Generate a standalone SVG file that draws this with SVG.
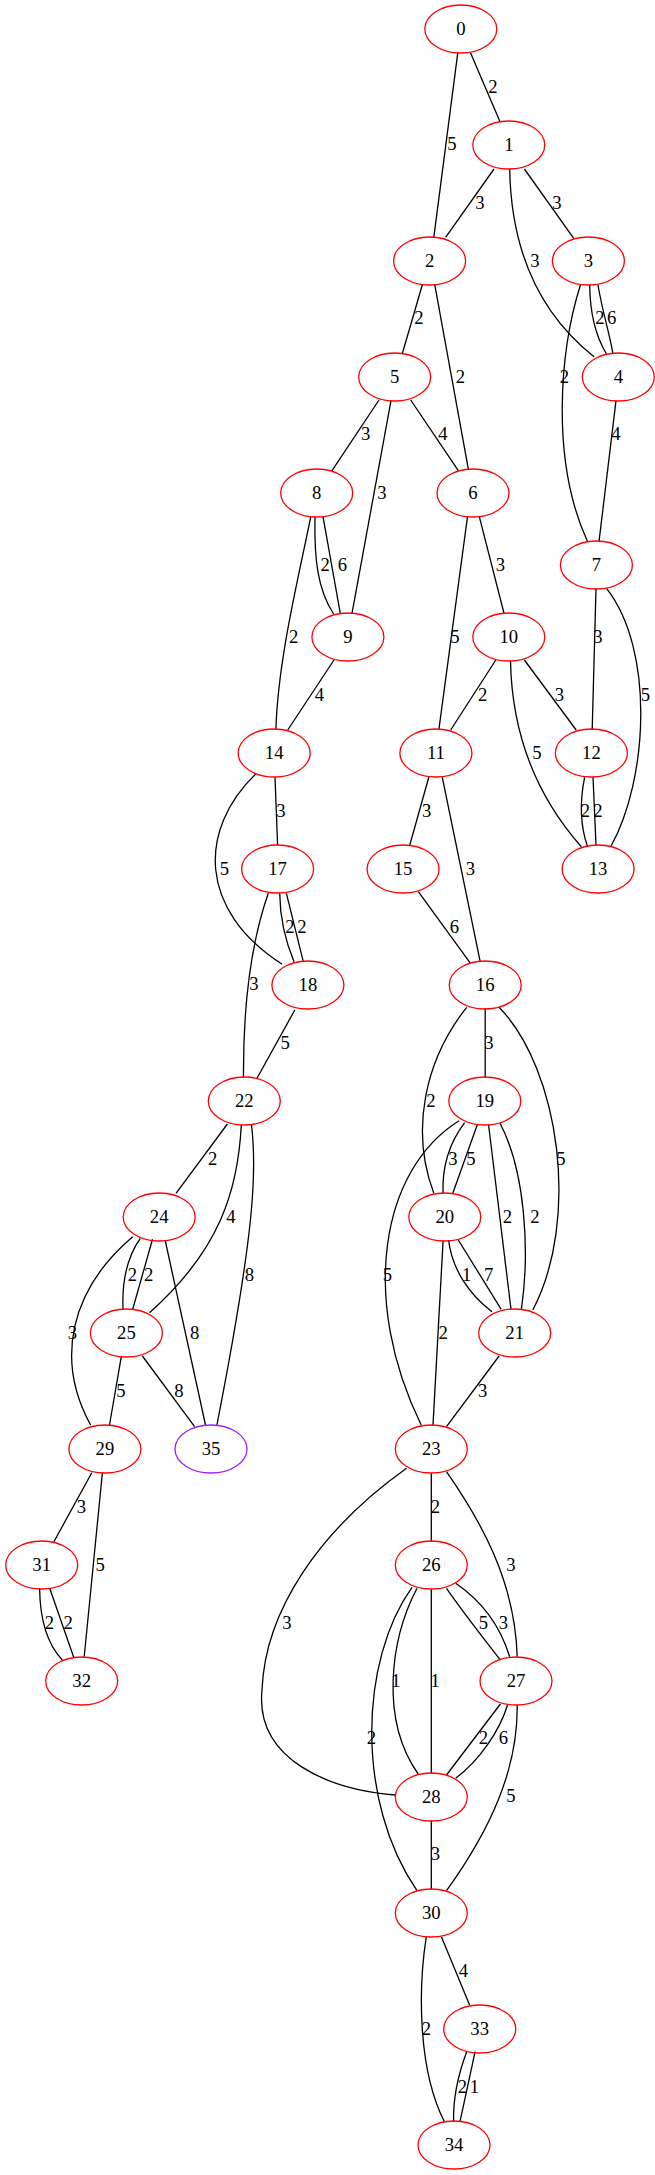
<svg xmlns="http://www.w3.org/2000/svg" width="655" height="2175" viewBox="0 0 655 2175">
<style>
.n ellipse{fill:none;stroke:#ff0000;stroke-width:1.3}
.n text,.l text{font-family:"Liberation Serif","Times New Roman",serif;font-size:18.67px;text-anchor:middle;fill:#000}
.e path{fill:none;stroke:#000;stroke-width:1.3}
</style>
<rect width="655" height="2175" fill="#fff"/>
<g id="edges" class="e">
<path d="M457.8,52.7 L433.8,237.3"/>
<path d="M470.5,52.7 L500,121.7"/>
<path d="M494,169 L445.6,237.3"/>
<path d="M524.4,169 L573.7,238.3"/>
<path d="M509.7,169 C511,245 535,310 594,356.7"/>
<path d="M422.5,284.3 L402.2,354"/>
<path d="M434.7,284.3 L468.4,469.3"/>
<path d="M589.7,285 C590,320 598,340 606.5,354"/>
<path d="M598,285 C602,310 610,335 612.8,353.3"/>
<path d="M580.4,285 C560,350 550,460 587.6,541.7"/>
<path d="M616,400.7 L599,541.7"/>
<path d="M379,400 L332,470.7"/>
<path d="M391,400.7 L352,613.3"/>
<path d="M410.7,400 L458.3,470.7"/>
<path d="M315,516.7 C314,560 318,590 333.6,614"/>
<path d="M323,516.7 L340.3,613.3"/>
<path d="M310.8,516.7 C298,580 278,660 275.9,729.3"/>
<path d="M467.5,516.7 L438.9,729.3"/>
<path d="M479.3,516.7 L504.2,614"/>
<path d="M596,588.3 L592.2,730"/>
<path d="M606.5,588.3 C655,650 648,780 610.7,846.7"/>
<path d="M334,660 L287.7,730"/>
<path d="M495.8,660 L450.7,730"/>
<path d="M524.4,660 L576.2,730"/>
<path d="M510.5,660.7 C512,740 540,800 581.3,846.7"/>
<path d="M584.6,777.3 C580,800 580,825 587.6,846.7"/>
<path d="M593,777.3 L596,845"/>
<path d="M275,777.3 L277.6,845"/>
<path d="M255.7,774 C198,830 198,910 282.2,964.3"/>
<path d="M428.8,777.3 L409.8,845"/>
<path d="M442.3,777.3 L480.2,961.7"/>
<path d="M418.3,891.7 L470.5,963.3"/>
<path d="M279.7,893.3 C280,920 285,940 294,961.7"/>
<path d="M286.4,893.3 L303.3,961.7"/>
<path d="M268.3,893.3 C252,940 243,1000 243.5,1077.3"/>
<path d="M294.8,1010 L257,1078.3"/>
<path d="M485.2,1008.3 L485.2,1077.3"/>
<path d="M466.7,1007.3 C425,1060 410,1130 433.8,1193.3"/>
<path d="M499.1,1007.3 C560,1070 580,1220 532.8,1310"/>
<path d="M227.4,1124 L176,1193.3"/>
<path d="M241.3,1125 C238,1190 220,1250 149.5,1312.7"/>
<path d="M251.5,1125 C257,1170 255,1230 216.9,1425"/>
<path d="M464.6,1122.7 C448,1145 442,1170 443.1,1193.3"/>
<path d="M477.2,1125 L452.8,1193.3"/>
<path d="M488.6,1125 L511,1309.3"/>
<path d="M500,1123.3 C525,1170 530,1250 521.4,1309.3"/>
<path d="M459.1,1120.7 C380,1170 360,1300 421.2,1425"/>
<path d="M140.3,1238.3 C125,1260 122,1285 123,1309.3"/>
<path d="M152.5,1239.3 L132.7,1309.3"/>
<path d="M132.7,1236.7 C70,1290 55,1360 90.6,1425"/>
<path d="M165.1,1240 L205.5,1425"/>
<path d="M448.6,1240 C452,1270 470,1295 492,1311.7"/>
<path d="M458.3,1240 L501.2,1309.3"/>
<path d="M443.1,1240.7 L433,1425"/>
<path d="M499.1,1356 L446.5,1426.7"/>
<path d="M121.3,1356.7 L109.5,1425"/>
<path d="M142.4,1356 L194.6,1426.7"/>
<path d="M91.8,1472.7 L53.9,1541.7"/>
<path d="M102.4,1472.7 L84.2,1656.7"/>
<path d="M39.6,1588.3 C40,1620 48,1645 62.3,1660"/>
<path d="M49.7,1588.3 L73.7,1657.3"/>
<path d="M431.3,1473.3 L431.3,1541.7"/>
<path d="M446.5,1471.7 C480,1520 515,1580 517.2,1656.7"/>
<path d="M406.5,1468.3 C320,1530 265,1610 262,1690 C255,1760 330,1790 396,1795"/>
<path d="M446.5,1588.3 C465,1615 485,1640 500.4,1660"/>
<path d="M455.7,1583.3 C480,1600 500,1625 509.6,1656.7"/>
<path d="M417,1588.3 C390,1640 380,1720 418.2,1774"/>
<path d="M431.3,1589.3 L431.3,1773.3"/>
<path d="M412,1587.3 C360,1660 355,1800 417,1890.7"/>
<path d="M500.4,1704 L446.5,1775"/>
<path d="M507.5,1705 C500,1730 480,1760 455.7,1778.3"/>
<path d="M517.2,1705 C518,1770 490,1830 446.5,1890.7"/>
<path d="M431.3,1820.7 L431.3,1889.3"/>
<path d="M426.3,1936.7 C418,1990 418,2070 444.4,2121.7"/>
<path d="M441.4,1936.7 L469.6,2005"/>
<path d="M466.7,2051.7 C458,2075 453,2100 453.6,2121.7"/>
<path d="M475.1,2051.7 L460,2121.7"/>
</g>
<g id="edge-labels" class="l">
<text x="492.8" y="93.3">2</text>
<text x="452" y="150.3">5</text>
<text x="480" y="209">3</text>
<text x="557" y="209">3</text>
<text x="535" y="266.7">3</text>
<text x="419" y="324.3">2</text>
<text x="460.4" y="382.7">2</text>
<text x="600" y="324.3">2</text>
<text x="611.6" y="324.3">6</text>
<text x="564.4" y="382.7">2</text>
<text x="615.8" y="440.3">4</text>
<text x="365.6" y="440.3">3</text>
<text x="382" y="498.7">3</text>
<text x="443" y="440.3">4</text>
<text x="325.2" y="570.7">2</text>
<text x="342.4" y="570.7">6</text>
<text x="293.6" y="642.7">2</text>
<text x="454.9" y="642.7">5</text>
<text x="500.4" y="570.7">3</text>
<text x="598" y="642.7">3</text>
<text x="645.3" y="701">5</text>
<text x="319.3" y="701">4</text>
<text x="482.7" y="701">2</text>
<text x="559.4" y="701">3</text>
<text x="537" y="758.7">5</text>
<text x="585.5" y="816.7">2</text>
<text x="598" y="816.7">2</text>
<text x="281" y="816.7">3</text>
<text x="224.5" y="874.7">5</text>
<text x="426.7" y="816.7">3</text>
<text x="470.5" y="874.7">3</text>
<text x="454.5" y="932.7">6</text>
<text x="289.8" y="932.7">2</text>
<text x="302" y="932.7">2</text>
<text x="254" y="990.3">3</text>
<text x="285.2" y="1048.7">5</text>
<text x="489" y="1048.7">3</text>
<text x="430.9" y="1106.7">2</text>
<text x="561" y="1164.7">5</text>
<text x="212.7" y="1164.7">2</text>
<text x="230.8" y="1222.7">4</text>
<text x="249.4" y="1281">8</text>
<text x="452.8" y="1164.7">3</text>
<text x="470.9" y="1164.7">5</text>
<text x="507.5" y="1222.7">2</text>
<text x="535" y="1222.7">2</text>
<text x="387.5" y="1281">5</text>
<text x="132.3" y="1281">2</text>
<text x="148.7" y="1281">2</text>
<text x="72.4" y="1338.7">3</text>
<text x="194.6" y="1338.7">8</text>
<text x="466.7" y="1281">1</text>
<text x="488.6" y="1281">7</text>
<text x="443.1" y="1338.7">2</text>
<text x="482.7" y="1396.7">3</text>
<text x="120.9" y="1396.7">5</text>
<text x="179" y="1396.7">8</text>
<text x="81.3" y="1512.7">3</text>
<text x="100.2" y="1570.7">5</text>
<text x="49.3" y="1628.7">2</text>
<text x="68.2" y="1628.7">2</text>
<text x="435.5" y="1512.7">2</text>
<text x="511" y="1570.7">3</text>
<text x="286.8" y="1628.7">3</text>
<text x="483.5" y="1628.7">5</text>
<text x="503.3" y="1628.7">3</text>
<text x="395.9" y="1687">1</text>
<text x="435.1" y="1687">1</text>
<text x="371.5" y="1744.3">2</text>
<text x="483.5" y="1744.3">2</text>
<text x="503.3" y="1744.3">6</text>
<text x="511" y="1802">5</text>
<text x="435.5" y="1860">3</text>
<text x="426.3" y="2035">2</text>
<text x="463.3" y="1976.7">4</text>
<text x="462.5" y="2093.3">2</text>
<text x="474.3" y="2093.3">1</text>
</g>
<g id="node0" class="n"><ellipse cx="460.8" cy="29" rx="36" ry="24"/><text x="460.8" y="35">0</text></g>
<g id="node1" class="n"><ellipse cx="508.8" cy="145" rx="36" ry="24"/><text x="508.8" y="151">1</text></g>
<g id="node2" class="n"><ellipse cx="429.6" cy="261" rx="36" ry="24"/><text x="429.6" y="267">2</text></g>
<g id="node3" class="n"><ellipse cx="588.4" cy="261" rx="36" ry="24"/><text x="588.4" y="267">3</text></g>
<g id="node4" class="n"><ellipse cx="618.3" cy="377" rx="36" ry="24"/><text x="618.3" y="383">4</text></g>
<g id="node5" class="n"><ellipse cx="394.7" cy="377" rx="36" ry="24"/><text x="394.7" y="383">5</text></g>
<g id="node6" class="n"><ellipse cx="473" cy="493" rx="36" ry="24"/><text x="473" y="499">6</text></g>
<g id="node7" class="n"><ellipse cx="596.4" cy="565" rx="36" ry="24"/><text x="596.4" y="571">7</text></g>
<g id="node8" class="n"><ellipse cx="316.7" cy="493" rx="36" ry="24"/><text x="316.7" y="499">8</text></g>
<g id="node9" class="n"><ellipse cx="347.9" cy="637" rx="36" ry="24"/><text x="347.9" y="643">9</text></g>
<g id="node10" class="n"><ellipse cx="508.8" cy="637" rx="36" ry="24"/><text x="508.8" y="643">10</text></g>
<g id="node11" class="n"><ellipse cx="435.9" cy="753" rx="36" ry="24"/><text x="435.9" y="759">11</text></g>
<g id="node12" class="n"><ellipse cx="591.4" cy="753" rx="36" ry="24"/><text x="591.4" y="759">12</text></g>
<g id="node13" class="n"><ellipse cx="598.1" cy="869" rx="36" ry="24"/><text x="598.1" y="875">13</text></g>
<g id="node14" class="n"><ellipse cx="274.2" cy="753" rx="36" ry="24"/><text x="274.2" y="759">14</text></g>
<g id="node15" class="n"><ellipse cx="403.1" cy="869" rx="36" ry="24"/><text x="403.1" y="875">15</text></g>
<g id="node16" class="n"><ellipse cx="485.2" cy="985" rx="36" ry="24"/><text x="485.2" y="991">16</text></g>
<g id="node17" class="n"><ellipse cx="277.6" cy="869" rx="36" ry="24"/><text x="277.6" y="875">17</text></g>
<g id="node18" class="n"><ellipse cx="307.9" cy="985" rx="36" ry="24"/><text x="307.9" y="991">18</text></g>
<g id="node19" class="n"><ellipse cx="484.8" cy="1101" rx="36" ry="24"/><text x="484.8" y="1107">19</text></g>
<g id="node20" class="n"><ellipse cx="444.8" cy="1217" rx="36" ry="24"/><text x="444.8" y="1223">20</text></g>
<g id="node21" class="n"><ellipse cx="514.7" cy="1333" rx="36" ry="24"/><text x="514.7" y="1339">21</text></g>
<g id="node22" class="n"><ellipse cx="244.3" cy="1101" rx="36" ry="24"/><text x="244.3" y="1107">22</text></g>
<g id="node23" class="n"><ellipse cx="431.3" cy="1449" rx="36" ry="24"/><text x="431.3" y="1455">23</text></g>
<g id="node24" class="n"><ellipse cx="159.2" cy="1217" rx="36" ry="24"/><text x="159.2" y="1223">24</text></g>
<g id="node25" class="n"><ellipse cx="126.4" cy="1333" rx="36" ry="24"/><text x="126.4" y="1339">25</text></g>
<g id="node26" class="n"><ellipse cx="431.3" cy="1565" rx="36" ry="24"/><text x="431.3" y="1571">26</text></g>
<g id="node27" class="n"><ellipse cx="516" cy="1681" rx="36" ry="24"/><text x="516" y="1687">27</text></g>
<g id="node28" class="n"><ellipse cx="431.3" cy="1797" rx="36" ry="24"/><text x="431.3" y="1803">28</text></g>
<g id="node29" class="n"><ellipse cx="104.9" cy="1449" rx="36" ry="24"/><text x="104.9" y="1455">29</text></g>
<g id="node30" class="n"><ellipse cx="431.3" cy="1913" rx="36" ry="24"/><text x="431.3" y="1919">30</text></g>
<g id="node31" class="n"><ellipse cx="41.7" cy="1565" rx="36" ry="24"/><text x="41.7" y="1571">31</text></g>
<g id="node32" class="n"><ellipse cx="81.7" cy="1681" rx="36" ry="24"/><text x="81.7" y="1687">32</text></g>
<g id="node33" class="n"><ellipse cx="479.7" cy="2029" rx="36" ry="24"/><text x="479.7" y="2035">33</text></g>
<g id="node34" class="n"><ellipse cx="454" cy="2145" rx="36" ry="24"/><text x="454" y="2151">34</text></g>
<g id="node35" class="n"><ellipse cx="211" cy="1449" rx="36" ry="24" style="stroke:#a020f0"/><text x="211" y="1455">35</text></g>
</svg>
